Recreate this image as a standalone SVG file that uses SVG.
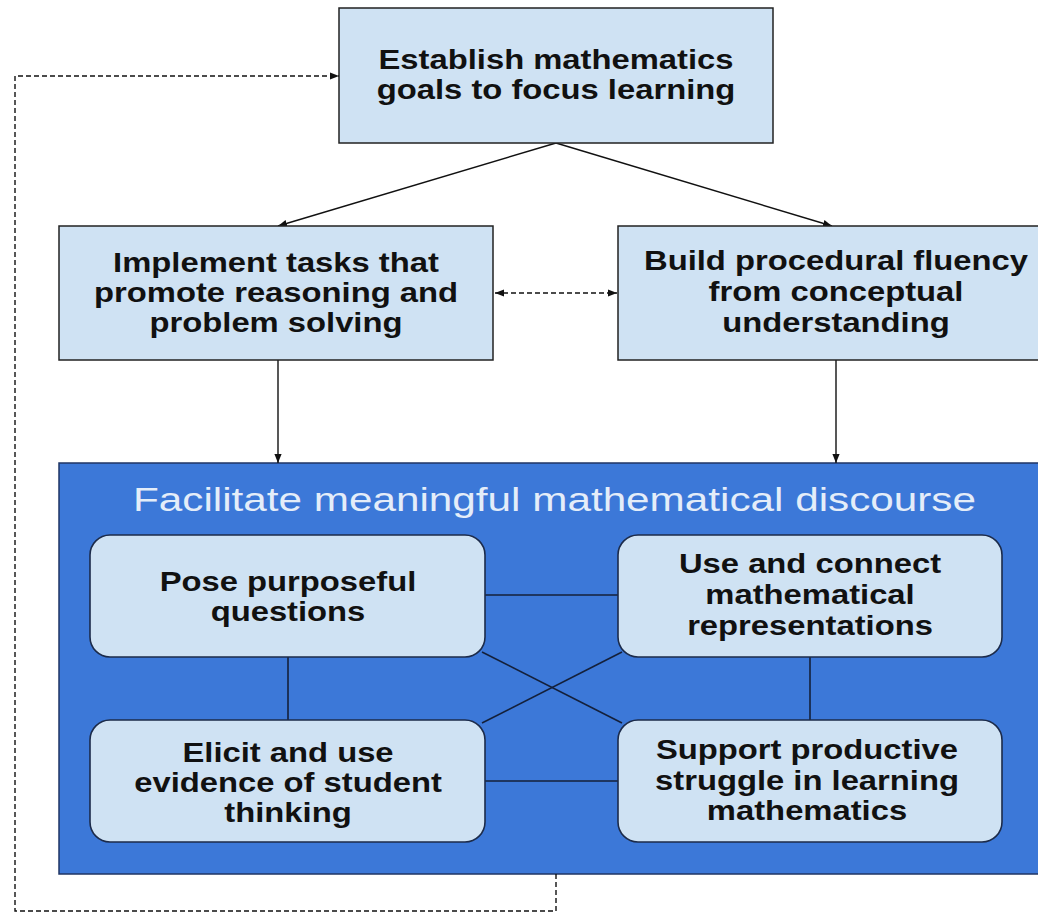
<svg xmlns="http://www.w3.org/2000/svg" width="1038" height="913" viewBox="0 0 1038 913">
  <style>
    .box { fill: #cfe2f3; stroke: #222; stroke-width: 1.5; }
    .card { fill: #cfe2f3; stroke: #1c2b4a; stroke-width: 1.6; }
    .frame { fill: #3c78d8; stroke: #1f3564; stroke-width: 1.5; }
    .lbl { font-family: "Liberation Sans", Arial, sans-serif; font-weight: bold; font-size: 28px; fill: #111; text-anchor: middle; }
    .title { font-family: "Liberation Sans", Arial, sans-serif; font-size: 34px; fill: #e4edf9; }
    .arrow { fill: none; stroke: #111; stroke-width: 1.4; }
    .dash { fill: none; stroke: #111; stroke-width: 1.4; stroke-dasharray: 5 3; }
    .link { fill: none; stroke: #14203a; stroke-width: 1.6; }
  </style>
  <defs>
    <marker id="head" viewBox="0 0 10 10" refX="10" refY="5" markerWidth="9" markerHeight="9" markerUnits="userSpaceOnUse" orient="auto-start-reverse">
      <path d="M0,1 L10,5 L0,9 Z" fill="#111"/>
    </marker>
  </defs>

  <rect width="1038" height="913" fill="#ffffff"/>

  <!-- discourse container with its four practices -->
  <g id="discourse">
    <rect class="frame" x="59" y="463" width="1000" height="411"/>
    <text class="title" x="133" y="511" textLength="843" lengthAdjust="spacingAndGlyphs">Facilitate meaningful mathematical discourse</text>
  </g>

  <!-- connectors -->
  <g id="connectors">
    <line class="arrow" x1="556" y1="143" x2="278" y2="226" marker-end="url(#head)"/>
    <line class="arrow" x1="556" y1="143" x2="832" y2="226" marker-end="url(#head)"/>
    <line class="dash" x1="495" y1="293" x2="617" y2="293" marker-start="url(#head)" marker-end="url(#head)"/>
    <line class="arrow" x1="278" y1="360" x2="278" y2="463" marker-end="url(#head)"/>
    <line class="arrow" x1="836" y1="360" x2="836" y2="463" marker-end="url(#head)"/>
    <polyline class="dash" points="556,874 556,911 15,911 15,76 339,76" marker-end="url(#head)"/>
    <line class="link" x1="485" y1="595" x2="618" y2="595"/>
    <line class="link" x1="485" y1="781" x2="618" y2="781"/>
    <line class="link" x1="288" y1="657" x2="288" y2="720"/>
    <line class="link" x1="810" y1="657" x2="810" y2="720"/>
    <line class="link" x1="482" y1="652" x2="622" y2="723"/>
    <line class="link" x1="482" y1="723" x2="622" y2="652"/>
  </g>

  <g id="goals">
    <rect class="box" x="339" y="8" width="434" height="135"/>
    <g transform="translate(556,0) scale(1.17,1)">
      <text class="lbl" x="0" y="69">Establish mathematics</text>
      <text class="lbl" x="0" y="99">goals to focus learning</text>
    </g>
  </g>

  <g id="tasks">
    <rect class="box" x="59" y="226" width="434" height="134"/>
    <g transform="translate(276,0) scale(1.17,1)">
      <text class="lbl" x="0" y="272">Implement tasks that</text>
      <text class="lbl" x="0" y="302">promote reasoning and</text>
      <text class="lbl" x="0" y="332">problem solving</text>
    </g>
  </g>

  <g id="fluency">
    <rect class="box" x="618" y="226" width="436" height="134"/>
    <g transform="translate(836,0) scale(1.17,1)">
      <text class="lbl" x="0" y="270">Build procedural fluency</text>
      <text class="lbl" x="0" y="301">from conceptual</text>
      <text class="lbl" x="0" y="332">understanding</text>
    </g>
  </g>

  <g id="questions">
    <rect class="card" x="90" y="535" width="395" height="122" rx="20" ry="20"/>
    <g transform="translate(288,0) scale(1.17,1)">
      <text class="lbl" x="0" y="591">Pose purposeful</text>
      <text class="lbl" x="0" y="621">questions</text>
    </g>
  </g>

  <g id="representations">
    <rect class="card" x="618" y="535" width="384" height="122" rx="20" ry="20"/>
    <g transform="translate(810,0) scale(1.17,1)">
      <text class="lbl" x="0" y="573">Use and connect</text>
      <text class="lbl" x="0" y="604">mathematical</text>
      <text class="lbl" x="0" y="635">representations</text>
    </g>
  </g>

  <g id="evidence">
    <rect class="card" x="90" y="720" width="395" height="122" rx="20" ry="20"/>
    <g transform="translate(288,0) scale(1.17,1)">
      <text class="lbl" x="0" y="762">Elicit and use</text>
      <text class="lbl" x="0" y="792">evidence of student</text>
      <text class="lbl" x="0" y="822">thinking</text>
    </g>
  </g>

  <g id="struggle">
    <rect class="card" x="618" y="720" width="384" height="122" rx="20" ry="20"/>
    <g transform="translate(807,0) scale(1.17,1)">
      <text class="lbl" x="0" y="759">Support productive</text>
      <text class="lbl" x="0" y="790">struggle in learning</text>
      <text class="lbl" x="0" y="820">mathematics</text>
    </g>
  </g>
</svg>
